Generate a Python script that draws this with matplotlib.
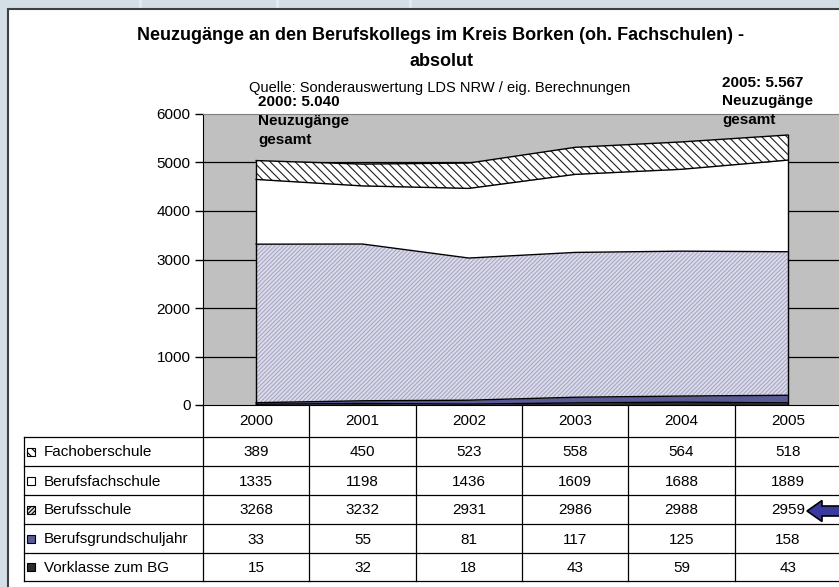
import matplotlib
matplotlib.use("Agg")
import matplotlib.pyplot as plt
import numpy as np
from matplotlib.patches import Rectangle, Polygon

plt.rcParams['font.family'] = ['Liberation Sans', 'DejaVu Sans']
plt.rcParams['hatch.linewidth'] = 0.8

years = ["2000", "2001", "2002", "2003", "2004", "2005"]
fachoberschule = [389, 450, 523, 558, 564, 518]
berufsfachschule = [1335, 1198, 1436, 1609, 1688, 1889]
berufsschule = [3268, 3232, 2931, 2986, 2988, 2959]
berufsgrundschuljahr = [33, 55, 81, 117, 125, 158]
vorklasse = [15, 32, 18, 43, 59, 43]

row_names = ["Fachoberschule", "Berufsfachschule", "Berufsschule",
             "Berufsgrundschuljahr", "Vorklasse zum BG"]
rows = [fachoberschule, berufsfachschule, berufsschule, berufsgrundschuljahr, vorklasse]

W, H = 839, 587
fig = plt.figure(figsize=(W / 100, H / 100), dpi=100)
fig.patch.set_facecolor('#D3DEE6')

def fr(x0, y0, x1, y1):
    # pixel box (top-left origin) -> figure fraction rect
    return [x0 / W, 1 - y1 / H, (x1 - x0) / W, (y1 - y0) / H]

# background frame
bg = fig.add_axes([0, 0, 1, 1], zorder=0)
bg.set_xlim(0, W)
bg.set_ylim(H, 0)
bg.axis('off')
for xs in [140, 277, 410]:
    bg.plot([xs, xs], [0, H], color='#E4ECF2', lw=2, zorder=0)
bg.add_patch(Rectangle((8, 9), 900, 700, facecolor='white', edgecolor='#404040',
                       lw=1.5, zorder=1))

# styles (bottom to top)
styles = [
    dict(fc='#2B2B2B', hatch=None, hc='#2B2B2B'),     # Vorklasse
    dict(fc='#5A5A96', hatch=None, hc='#5A5A96'),     # BGJ
    dict(fc='#DCDCEA', hatch='////////', hc='#A8A8C6'),  # Berufsschule
    dict(fc='white', hatch=None, hc='white'),         # Berufsfachschule
    dict(fc='white', hatch='\\\\\\\\', hc='#202020'),   # Fachoberschule
]
stack_order = [vorklasse, berufsgrundschuljahr, berufsschule, berufsfachschule, fachoberschule]

ax = fig.add_axes(fr(203, 114, 841, 405), zorder=1)
ax.set_facecolor('#C0C0C0')
x = np.arange(len(years))
ax.set_xlim(-0.5, len(years) - 0.5)
ax.set_ylim(0, 6000)
for yv in range(1000, 6000, 1000):
    ax.axhline(yv, color='black', lw=0.9, zorder=0.5)

base = np.zeros(len(years))
for vals, st in zip(stack_order, styles):
    top = base + np.array(vals)
    ax.fill_between(x, base, top, facecolor=st['fc'], edgecolor=st['hc'],
                    hatch=st['hatch'], linewidth=0, zorder=2)
    ax.plot(x, top, color='black', lw=1, zorder=3)
    base = top
ax.plot([x[0], x[0]], [0, base[0]], color='black', lw=1, zorder=3)
ax.plot([x[-1], x[-1]], [0, base[-1]], color='black', lw=1, zorder=3)

ax.set_xticks([])
ax.set_yticks(range(0, 6001, 1000))
ax.tick_params(axis='y', direction='out', length=6, width=1, labelsize=11, pad=3)
ax.spines['right'].set_visible(False)
ax.spines['top'].set_color('#808080')
ax.spines['left'].set_color('black')
ax.spines['bottom'].set_color('black')

# overlay: titles, table, arrow
ov = fig.add_axes([0, 0, 1, 1], zorder=3)
ov.set_xlim(0, W)
ov.set_ylim(H, 0)
ov.axis('off')
ov.patch.set_alpha(0)

ov.text(441, 35, "Neuzugänge an den Berufskollegs im Kreis Borken (oh. Fachschulen) -",
        ha='center', va='center', fontsize=13, fontweight='bold')
ov.text(441, 62, "absolut", ha='center', va='center', fontsize=13, fontweight='bold')
ov.text(440, 88, "Quelle: Sonderauswertung LDS NRW / eig. Berechnungen",
        ha='center', va='center', fontsize=10.5)
ov.text(258, 95, "2000: 5.040\nNeuzugänge\ngesamt", ha='left', va='top',
        fontsize=11, fontweight='bold', linespacing=1.45)
ov.text(722, 76, "2005: 5.567\nNeuzugänge\ngesamt", ha='left', va='top',
        fontsize=11, fontweight='bold', linespacing=1.4)

cw = (841 - 203) / 6
row_y = [437, 466, 495, 524, 553, 581]
for k in range(7):
    xv = 203 + k * cw
    ov.plot([xv, xv], [405, 581], color='black', lw=0.9)
ov.plot([24, 24], [437, 581], color='black', lw=0.9)
for yv in row_y:
    ov.plot([24, 841], [yv, yv], color='black', lw=0.9)

for i, yr in enumerate(years):
    ov.text(203 + (i + 0.5) * cw, 421, yr, ha='center', va='center', fontsize=11)

key_styles = [styles[4], styles[3], styles[2], styles[1], styles[0]]
for r, (name, vals, st) in enumerate(zip(row_names, rows, key_styles)):
    yc = (row_y[r] + row_y[r + 1]) / 2
    ov.add_patch(Rectangle((27, yc - 4), 8, 8, facecolor=st['fc'], edgecolor='black',
                           hatch=st['hatch'], lw=0.8))
    ov.text(44, yc + 1, name, ha='left', va='center', fontsize=11)
    for i, v in enumerate(vals):
        ov.text(203 + (i + 0.5) * cw, yc + 1, str(v), ha='center', va='center', fontsize=11)

# arrow pointing at 2959
ay = 511
arrow = Polygon([(807, ay), (822, ay - 10.5), (822, ay - 5), (845, ay - 5),
                 (845, ay + 5), (822, ay + 5), (822, ay + 10.5)],
                closed=True, facecolor='#3A3A9E', edgecolor='black', lw=1.2)
ov.add_patch(arrow)

fig.savefig("out.png", dpi=100, facecolor=fig.get_facecolor())
